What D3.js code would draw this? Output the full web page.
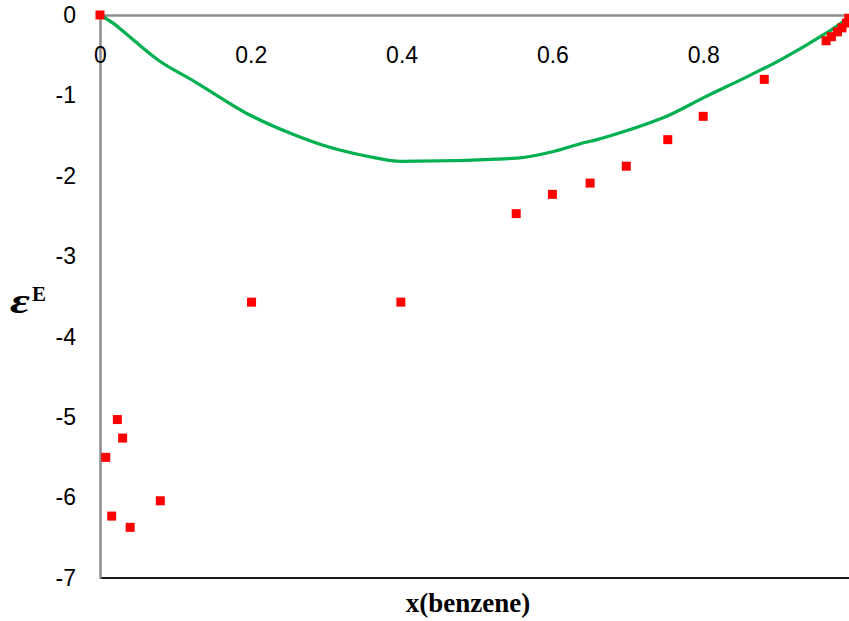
<!DOCTYPE html>
<html>
<head>
<meta charset="utf-8">
<script src="https://cdn.jsdelivr.net/npm/d3@7/dist/d3.min.js"></script>
<style>
  html, body { margin: 0; padding: 0; background: #fff; overflow: hidden; }
  svg { display: block; }
</style>
</head>
<body>
<svg id="chart" width="849" height="621"></svg>
<script>
// Experimental points (red squares)
const expX = [0, 0.0076, 0.0155, 0.023, 0.030, 0.040, 0.080, 0.201, 0.399, 0.552, 0.600, 0.650, 0.698, 0.753, 0.800, 0.881, 0.963, 0.970, 0.978, 0.984, 0.990, 0.993];
const expY = [0, -5.50, -6.23, -5.03, -5.26, -6.37, -6.04, -3.57, -3.57, -2.47, -2.23, -2.09, -1.88, -1.55, -1.26, -0.80, -0.32, -0.27, -0.21, -0.16, -0.10, -0.04];

// Model curve (green line)
const fitX = [0, 0.020, 0.033, 0.077, 0.126, 0.200, 0.255, 0.296, 0.351, 0.400, 0.553, 0.600, 0.637, 0.659, 0.698, 0.756, 0.800, 0.862, 0.902, 0.964, 0.993, 1.0];
const fitY = [0, -0.12, -0.22, -0.56, -0.83, -1.25, -1.48, -1.62, -1.75, -1.82, -1.78, -1.70, -1.60, -1.55, -1.44, -1.24, -1.03, -0.75, -0.56, -0.22, -0.04, 0];

const xTicks = [0, 0.2, 0.4, 0.6, 0.8];
const xTickLabels = ["0", "0.2", "0.4", "0.6", "0.8"];
const yTicks = [0, -1, -2, -3, -4, -5, -6, -7];
const yTickLabels = ["0", "-1", "-2", "-3", "-4", "-5", "-6", "-7"];

(function () {
const svg = d3.select("#chart");
const mLeft = 100, mTop = 15, mBottom = 578, mRight = 854;

const x = d3.scaleLinear().domain([0, 1]).range([mLeft, mRight]);
const y = d3.scaleLinear().domain([-7, 0]).range([mBottom, mTop]);

// bottom border line
svg.append("line")
  .attr("x1", mLeft).attr("x2", mRight)
  .attr("y1", mBottom).attr("y2", mBottom)
  .attr("stroke", "#1a1a1a").attr("stroke-width", 2);

// Y axis (left)
const yAxis = svg.append("g")
  .attr("transform", `translate(${mLeft},0)`)
  .call(d3.axisLeft(y).tickValues(yTicks).tickSize(0).tickSizeOuter(0).tickPadding(24)
    .tickFormat((d, i) => yTickLabels[i]));
yAxis.select(".domain").attr("stroke", "#8c8c8c").attr("stroke-width", 2.5);
yAxis.selectAll("text")
  .attr("font-family", "'Liberation Sans', Arial, sans-serif")
  .attr("font-size", 23).attr("fill", "#000");

// X axis along y = 0 (top), labels below the line
const xAxis = svg.append("g")
  .attr("transform", `translate(0,${y(0)})`)
  .call(d3.axisBottom(x).tickValues(xTicks).tickSize(0).tickSizeOuter(0).tickPadding(32)
    .tickFormat((d, i) => xTickLabels[i]));
xAxis.select(".domain").attr("stroke", "#8c8c8c").attr("stroke-width", 2.5);
xAxis.selectAll("text")
  .attr("font-family", "'Liberation Sans', Arial, sans-serif")
  .attr("font-size", 23).attr("fill", "#000");

// Green model line
const fitData = fitX.map((v, i) => [v, fitY[i]]);
svg.append("path")
  .datum(fitData)
  .attr("fill", "none")
  .attr("stroke", "#00b050")
  .attr("stroke-width", 3.2)
  .attr("stroke-linejoin", "round")
  .attr("d", d3.line().x(d => x(d[0])).y(d => y(d[1])).curve(d3.curveMonotoneX));

// Red squares
const expData = expX.map((v, i) => [v, expY[i]]);
const s = 9;
svg.append("g").selectAll("rect")
  .data(expData)
  .join("rect")
  .attr("x", d => x(d[0]) - s / 2)
  .attr("y", d => y(d[1]) - s / 2)
  .attr("width", s).attr("height", s)
  .attr("fill", "#ff0000");

// X title
svg.append("text")
  .attr("x", 468).attr("y", 612)
  .attr("text-anchor", "middle")
  .attr("font-family", "'Liberation Serif', 'Times New Roman', serif")
  .attr("font-weight", "bold")
  .attr("font-size", 27)
  .text("x(benzene)");

// Y title: ε^E
svg.append("text")
  .attr("transform", "translate(10,313) scale(1.35,1)")
  .attr("font-family", "'Liberation Serif', 'Times New Roman', serif")
  .attr("font-weight", "bold")
  .attr("font-style", "italic")
  .attr("font-size", 36)
  .text("ε");
svg.append("text")
  .attr("x", 32).attr("y", 301)
  .attr("font-family", "'Liberation Serif', 'Times New Roman', serif")
  .attr("font-weight", "bold")
  .attr("font-size", 21)
  .text("E");
})();
</script>
</body>
</html>
